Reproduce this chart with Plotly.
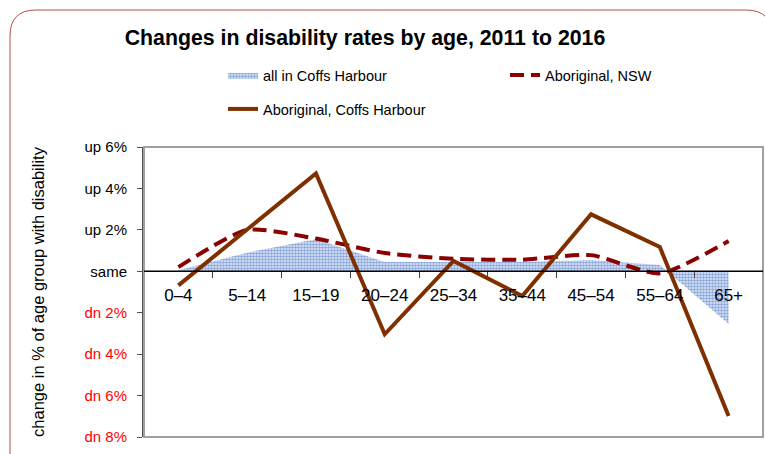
import plotly.graph_objects as go

# age groups and changes (percentage points), 2011 to 2016
ages = ["0–4", "5–14", "15–19", "20–24", "25–34", "35–44", "45–54", "55–64", "65+"]
all_coffs = [0.05, 0.9, 1.55, 0.45, 0.45, 0.45, 0.55, 0.3, -2.55]
abor_nsw = [0.2, 2.0, 1.58, 0.88, 0.6, 0.56, 0.78, -0.1, 1.46]
abor_coffs = [-0.68, 2.0, 4.72, -3.04, 0.5, -1.19, 2.75, 1.17, -6.99]

yvals = [6, 4, 2, 0, -2, -4, -6, -8]
ylabels = ["up 6%", "up 4%", "up 2%", "same",
           "<span style='color:red'>dn 2%</span>",
           "<span style='color:red'>dn 4%</span>",
           "<span style='color:red'>dn 6%</span>",
           "<span style='color:red'>dn 8%</span>"]

font = "Liberation Sans, Arial"

fig = go.Figure()

fig.add_trace(go.Scatter(
    x=ages, y=all_coffs, name="all in Coffs Harbour", mode="lines",
    line=dict(width=0, color="#3E6FC4"), fill="tozeroy",
    fillpattern=dict(shape=".", fgcolor="#2F62BC", bgcolor="#E2EAF7", size=3, solidity=0.55),
    legend="legend"))

fig.add_trace(go.Scatter(
    x=ages, y=abor_nsw, name="Aboriginal, NSW", mode="lines",
    line=dict(color="#8B0000", width=4, dash="14px,7px", shape="spline", smoothing=0.6),
    legend="legend2"))

fig.add_trace(go.Scatter(
    x=ages, y=abor_coffs, name="Aboriginal, Coffs Harbour", mode="lines",
    line=dict(color="#7F3000", width=4),
    legend="legend3"))

# plot area in px: x 144..763, y 147..437
L, R, T, B = 144, 763, 147, 437
W, H = R - L, B - T
px = lambda v: (v - L) / W
py = lambda v: (B - v) / H

# rounded outer border
x0, x1, y0, y1, r = 10, 772, 10, 475, 26
path = (f"M {px(x0)},{py(y0 + r)} Q {px(x0)},{py(y0)} {px(x0 + r)},{py(y0)} "
        f"L {px(x1 - r)},{py(y0)} Q {px(x1)},{py(y0)} {px(x1)},{py(y0 + r)} "
        f"L {px(x1)},{py(y1)} L {px(x0)},{py(y1)} Z")

leg = dict(orientation="h", xanchor="left", yanchor="middle",
           font=dict(family=font, size=14.5), bgcolor="rgba(0,0,0,0)")

fig.update_layout(
    width=765, height=454,
    margin=dict(l=L, r=765 - R, t=T, b=454 - B),
    paper_bgcolor="white", plot_bgcolor="white",
    font=dict(family=font, size=15, color="black"),
    title=dict(text="<b>Changes in disability rates by age, 2011 to 2016</b>",
               x=365 / 765, xanchor="center", y=1 - 38 / 454, yanchor="middle",
               font=dict(family=font, size=21.3, color="black")),
    showlegend=True,
    legend=dict(leg, x=px(223), y=py(75)),
    legend2=dict(leg, x=px(505), y=py(75)),
    legend3=dict(leg, x=px(223), y=py(109)),
    shapes=[
        dict(type="path", path=path, xref="paper", yref="paper",
             line=dict(color="#B0504A", width=1)),
        dict(type="rect", x0=0, x1=1, y0=0, y1=1, xref="paper", yref="paper",
             line=dict(color="#A0A0A0", width=2), layer="above"),
        dict(type="line", x0=0, x1=1, y0=0, y1=0, xref="paper", yref="y",
             line=dict(color="black", width=1.5), layer="above"),
    ],
)

fig.update_xaxes(
    type="category", range=[-0.5, 8.5], anchor="free", position=8 / 14,
    showline=False, showgrid=False, zeroline=False,
    ticks="outside", tickson="boundaries", ticklen=6, tickcolor="#404040",
    ticklabelstandoff=12,
    tickfont=dict(family=font, size=17, color="black"))

fig.update_yaxes(
    range=[-8, 6], tickvals=yvals, ticktext=ylabels,
    showgrid=False, zeroline=False, showline=True, linecolor="#505050", linewidth=2,
    ticks="outside", ticklen=5, tickcolor="#505050", ticklabelstandoff=7,
    tickfont=dict(family=font, size=15),
    title=dict(text="change in % of age group with disability",
               font=dict(family=font, size=16.5), standoff=36))

fig.write_html("out.html", config={"displayModeBar": False},
               post_script="document.body.style.margin='0';")
